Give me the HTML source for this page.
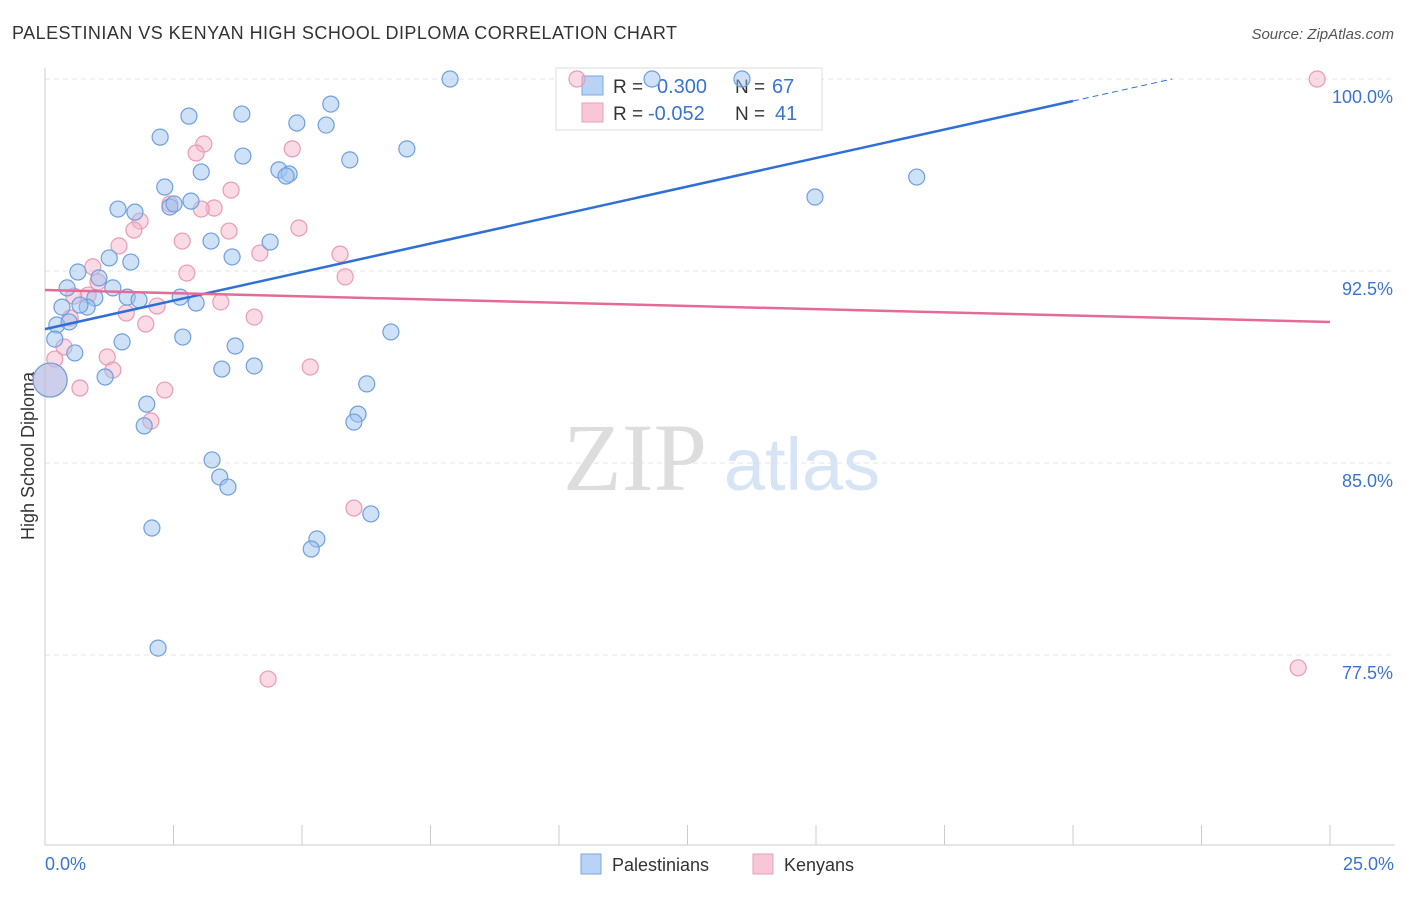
<!DOCTYPE html>
<html><head><meta charset="utf-8"><style>
body{margin:0;background:#fff;font-family:"Liberation Sans",sans-serif;}
svg text{font-family:"Liberation Sans",sans-serif;}
</style></head><body>
<svg id="chart" width="1406" height="892" xmlns="http://www.w3.org/2000/svg">
<text x="12" y="39" font-size="18" fill="#333" textLength="665">PALESTINIAN VS KENYAN HIGH SCHOOL DIPLOMA CORRELATION CHART</text>
<text x="1394" y="39" font-size="15" fill="#555" text-anchor="end" font-style="italic">Source: ZipAtlas.com</text>
<g id="grid"></g>
<g>
<text x="635" y="490" font-size="96" fill="#ddd" text-anchor="middle" font-family="Liberation Serif,serif" style="font-family:'Liberation Serif',serif">ZIP</text>
<text x="802" y="490" font-size="74" fill="#d6e4f5" text-anchor="middle">atlas</text>
</g>
<line x1="45" y1="68" x2="45" y2="845" stroke="#ccc"/>
<line x1="45" y1="845" x2="1395" y2="845" stroke="#ccc"/>
<g id="xticks"></g>
<g id="ylabels"></g>
<text x="45" y="870" font-size="18" fill="#3a74d0">0.0%</text>
<text x="1394" y="870" font-size="18" fill="#3a74d0" text-anchor="end">25.0%</text>
<text transform="translate(34,456) rotate(-90)" font-size="18" fill="#333" text-anchor="middle">High School Diploma</text>
<g>
<rect x="556" y="68" width="266" height="62" fill="#fff" stroke="#ddd"/>
<rect x="582" y="76" width="21" height="19" fill="#b8d3f5" stroke="#7ba7e0"/>
<rect x="582" y="103" width="21" height="19" fill="#f8c6d6" stroke="#eaa0b8"/>
<text x="613" y="93" font-size="19" fill="#333">R =</text>
<text x="657" y="93" font-size="20" fill="#3a74d0">0.300</text>
<text x="735" y="93" font-size="19" fill="#333">N =</text>
<text x="772" y="93" font-size="20" fill="#3a74d0">67</text>
<text x="613" y="120" font-size="19" fill="#333">R =</text>
<text x="648" y="120" font-size="20" fill="#3a74d0">-0.052</text>
<text x="735" y="120" font-size="19" fill="#333">N =</text>
<text x="775" y="120" font-size="20" fill="#3a74d0">41</text>
</g>
<g id="pink"></g>
<g id="blue"></g>
<g id="lines"></g>
<g>
<rect x="581" y="854" width="20" height="20" fill="#b8d3f5" stroke="#7ba7e0"/>
<text x="612" y="871" font-size="18" fill="#333">Palestinians</text>
<rect x="753" y="854" width="20" height="20" fill="#f8c6d6" stroke="#eaa0b8"/>
<text x="784" y="871" font-size="18" fill="#333">Kenyans</text>
</g>
</svg>
<script>
const yTicks=[100,92.5,85,77.5];
const yTickLabels=["100.0%","92.5%","85.0%","77.5%"];
const xTickVals=[0,2.5,5,7.5,10,12.5,15,17.5,20,22.5,25];
const blueX=[7.88,11.81,13.56,2.80,3.83,5.56,4.90,5.47,2.24,7.04,3.85,5.93,3.04,4.55,4.75,4.69,16.96,2.33,2.84,2.43,2.51,1.42,1.75,14.98,3.23,4.38,3.64,1.25,1.67,0.64,1.05,0.43,1.32,1.60,1.83,2.63,2.94,0.97,0.82,0.33,0.68,0.23,0.47,6.73,2.68,1.50,3.70,0.19,0.58,4.07,3.44,1.17,6.26,1.98,6.09,6.01,1.93,3.25,3.40,3.56,6.34,2.08,5.29,5.18,2.20,0.10];
const blueY=[100,100,100,98.55,98.63,99.02,98.28,98.20,97.73,97.27,96.99,96.84,96.37,96.45,96.29,96.21,96.17,95.78,95.23,95.00,95.12,94.92,94.80,95.39,93.67,93.63,93.05,93.01,92.85,92.46,92.23,91.84,91.84,91.48,91.37,91.48,91.25,91.45,91.09,91.09,91.17,90.39,90.51,90.12,89.92,89.73,89.57,89.84,89.30,88.79,88.67,88.36,88.09,87.30,86.91,86.60,86.45,85.12,84.45,84.06,83.01,82.46,82.03,81.64,77.77,88.24];
const pinkX=[10.35,24.75,3.09,4.81,2.94,3.62,2.43,3.29,3.04,1.85,1.73,3.58,4.94,2.67,1.44,4.18,5.74,0.93,2.76,5.84,1.03,0.84,0.56,3.42,2.18,1.58,0.49,1.96,4.07,0.37,1.21,0.19,1.32,5.16,0.68,2.33,2.06,6.01,4.34,24.38,0.10];
const pinkY=[100,100,97.46,97.27,97.11,95.66,95.12,94.96,94.92,94.45,94.10,94.06,94.18,93.67,93.48,93.20,93.16,92.66,92.42,92.27,92.07,91.56,91.52,91.29,91.13,90.86,90.66,90.43,90.70,89.53,89.14,89.06,88.63,88.75,87.93,87.85,86.64,83.24,76.56,77.00,88.24];
const blueTrend=[90.23,0.4455];
const pinkTrend=[91.76,-0.05];
const NS="http://www.w3.org/2000/svg";
const sx=v=>45+v/25*1285;
const sy=v=>79+(100-v)*25.6;
function mk(tag,attrs,parent){const e=document.createElementNS(NS,tag);for(const k in attrs)e.setAttribute(k,attrs[k]);document.getElementById(parent).appendChild(e);return e;}
yTicks.forEach((t,i)=>{
 const l=mk('line',{x1:45,x2:1395,y1:sy(t),y2:sy(t),stroke:'#e3e3e3','stroke-dasharray':'5,4'},'grid');
 
 
 const tx=mk('text',{x:1393,y:sy(t)+24,'font-size':18,fill:'#3a74d0','text-anchor':'end'},'ylabels');
 tx.textContent=yTickLabels[i];
 
 
});
xTickVals.forEach(v=>{
 const l=mk('line',{x1:sx(v),x2:sx(v),y1:825,y2:845,stroke:'#ccc'},'xticks');
 
 
});
function pts(X,Y,g,fill,stroke,name){
 X.forEach((x,i)=>{
  const big=(i===X.length-1);
  const c=mk('circle',{cx:sx(x),cy:sy(Y[i]),r:big?17:8,fill:fill,stroke:stroke,'stroke-width':1.2},g);
  
  
 });
}
pts(pinkX,pinkY,'pink','rgba(245,175,198,0.45)','#e99ab5','kenyan-point');
pts(blueX,blueY,'blue','rgba(160,196,240,0.5)','#6f9fdc','palestinian-point');
const bl=mk('line',{x1:sx(0),y1:sy(blueTrend[0]),x2:sx(20),y2:sy(blueTrend[0]+blueTrend[1]*20),stroke:'#2f6fd6','stroke-width':2.5},'lines');


const xe=(100-blueTrend[0])/blueTrend[1];
const bd=mk('line',{x1:sx(20),y1:sy(blueTrend[0]+blueTrend[1]*20),x2:sx(xe),y2:sy(100),stroke:'#2f6fd6','stroke-width':1,'stroke-dasharray':'6,4'},'lines');


const pl=mk('line',{x1:sx(0),y1:sy(pinkTrend[0]),x2:sx(25),y2:sy(pinkTrend[0]+pinkTrend[1]*25),stroke:'#e46b98','stroke-width':2.5},'lines');


</script>
</body></html>
